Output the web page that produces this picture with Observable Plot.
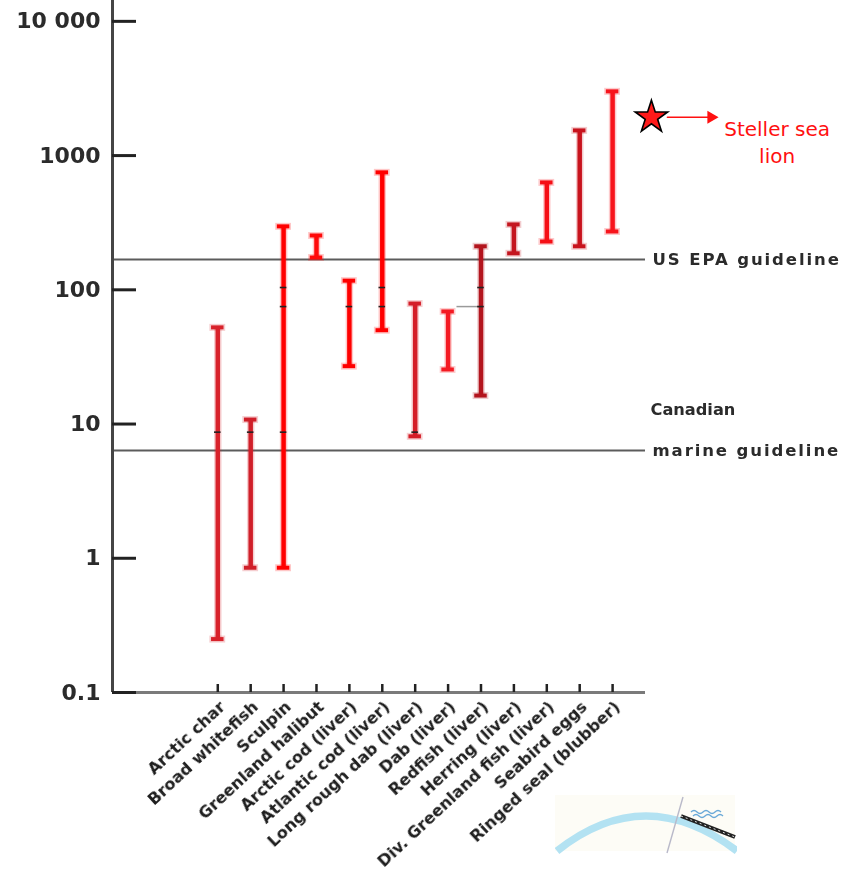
<!DOCTYPE html>
<html>
<head>
<meta charset="utf-8">
<script src="https://cdn.jsdelivr.net/npm/d3@7"></script>
<script src="https://cdn.jsdelivr.net/npm/@observablehq/plot@0.6"></script>
<style>
  html, body { margin: 0; padding: 0; background: #fff; }
  #chart { position: relative; width: 855px; height: 883px; overflow: hidden; }
  #chart svg.logo { position: absolute; left: 555px; top: 795px; }
  #chart g[aria-label="x-axis tick label"] text,
  #chart g[aria-label="y-axis tick label"] text,
  #chart g.guide-label text,
  #chart g.guide-spaced text { filter: blur(0.45px); }
  #chart g.guide-spaced text { letter-spacing: 1.9px; }
</style>
</head>
<body>
<div id="chart"></div>
<script>
// Species sampled, in plotting order
const species = [
  "Arctic char", "Broad whitefish", "Sculpin", "Greenland halibut",
  "Arctic cod (liver)", "Atlantic cod (liver)", "Long rough dab (liver)",
  "Dab (liver)", "Redfish (liver)", "Herring (liver)",
  "Div. Greenland fish (liver)", "Seabird eggs", "Ringed seal (blubber)"
];
// Concentration range (min / max) for each species
const rangeLow  = [0.25, 0.85, 0.85, 174, 27, 50, 8.1, 25.5, 16.3, 187, 229, 211, 272];
const rangeHigh = [52.5, 10.8, 297, 254, 117, 750, 79, 69, 211, 307, 631, 1540, 3010];

// Small central-value markers drawn on some of the ranges
const markerSpecies = ["Arctic char", "Broad whitefish", "Sculpin", "Sculpin", "Sculpin",
  "Arctic cod (liver)", "Atlantic cod (liver)", "Atlantic cod (liver)",
  "Long rough dab (liver)", "Redfish (liver)", "Redfish (liver)"];
const markerValues = [8.7, 8.7, 8.7, 75, 104, 75, 75, 104, 8.7, 75, 104];

// Guideline levels
const guidelineNames = ["US EPA guideline", "marine guideline"];
const guidelineValues = [168, 6.36];

// Steller sea lion value (star)
const stellerValue = 1930;

// Y axis ticks and labels
const yTicks = [0.1, 1, 10, 100, 1000, 10000];
const yTickLabels = ["0.1", "1", "10", "100", "1000", "10 000"];

// Bar tones
const tone = {
  "Arctic char": "#d8222b", "Broad whitefish": "#d01f29", "Sculpin": "#ff0000",
  "Greenland halibut": "#ff0a0a", "Arctic cod (liver)": "#ff0000",
  "Atlantic cod (liver)": "#ff0000", "Long rough dab (liver)": "#d41e28",
  "Dab (liver)": "#f41a22", "Redfish (liver)": "#b3141d", "Herring (liver)": "#c4161f",
  "Div. Greenland fish (liver)": "#f50f16", "Seabird eggs": "#c8131d",
  "Ringed seal (blubber)": "#f7141c"
};

const rows = species.map((name, i) => ({i, name, low: rangeLow[i], high: rangeHigh[i], color: tone[name]}));
const markers = markerSpecies.map((s, k) => ({i: species.indexOf(s), v: markerValues[k]}));
const guides = guidelineNames.map((name, k) => ({name, value: guidelineValues[k]}));

const xMin = -3.2, xMax = 13;
const capHalf = 0.19;
const starX = 13.18, labelX = 17;
const red = "#ff1010";

const chart = Plot.plot({
  width: 855,
  height: 883,
  marginLeft: 112,
  marginRight: 210,
  marginTop: 0,
  marginBottom: 191,
  style: {fontFamily: "DejaVu Sans", background: "#fff", overflow: "visible"},
  x: {type: "linear", domain: [xMin, xMax], axis: null},
  y: {type: "log", domain: [0.1, 14300], axis: null},
  color: {type: "identity"},
  marks: [
    // guideline levels
    Plot.ruleY(guides, {y: "value", stroke: "#5c5c5c", strokeWidth: 2}),
    // connector between Dab and Redfish markers
    Plot.ruleY([75], {x1: species.indexOf("Dab (liver)") + 0.27, x2: species.indexOf("Redfish (liver)"), stroke: "#9a9a9a", strokeWidth: 1.5}),
    // soft halo round the ranges
    Plot.ruleX(rows, {x: "i", y1: "low", y2: "high", stroke: "color", strokeWidth: 7.5, strokeOpacity: 0.22}),
    Plot.ruleY(rows, {y: "high", x1: d => d.i - capHalf - 0.05, x2: d => d.i + capHalf + 0.05, stroke: "color", strokeWidth: 7, strokeOpacity: 0.22}),
    Plot.ruleY(rows, {y: "low", x1: d => d.i - capHalf - 0.05, x2: d => d.i + capHalf + 0.05, stroke: "color", strokeWidth: 7, strokeOpacity: 0.22}),
    // ranges with caps
    Plot.ruleX(rows, {x: "i", y1: "low", y2: "high", stroke: "color", strokeWidth: 4.5}),
    Plot.ruleY(rows, {y: "high", x1: d => d.i - capHalf, x2: d => d.i + capHalf, stroke: "color", strokeWidth: 4}),
    Plot.ruleY(rows, {y: "low", x1: d => d.i - capHalf, x2: d => d.i + capHalf, stroke: "color", strokeWidth: 4}),
    // central-value markers
    Plot.ruleY(markers, {y: "v", x1: d => d.i - 0.1, x2: d => d.i + 0.1, stroke: "#222", strokeWidth: 1.6}),
    // axis lines
    Plot.ruleY([0.1], {stroke: "#7a7a7a", strokeWidth: 3}),
    Plot.ruleX([xMin], {stroke: "#454545", strokeWidth: 3}),
    // y axis: inward ticks and labels
    Plot.axisY({ticks: yTicks, tickSize: -24, tickFormat: () => "", strokeWidth: 3, stroke: "#222", label: null}),
    Plot.axisY({ticks: yTicks, tickSize: 0, tickPadding: 12, tickFormat: d => yTickLabels[yTicks.indexOf(d)],
      fontSize: 22, fontWeight: "bold", fill: "#2b2b2b", label: null}),
    // x axis: inward ticks and rotated species labels
    Plot.axisX({ticks: d3.range(species.length), tickSize: -8, tickFormat: () => "", strokeWidth: 2.5, stroke: "#222", label: null}),
    Plot.axisX({ticks: d3.range(species.length), tickSize: 0, tickPadding: 12, dx: 5, tickRotate: -43,
      tickFormat: i => species[i], fontSize: 16.2, fontWeight: "bold", fill: "#1e1e1e", label: null}),
    // guideline labels
    Plot.text(guides, {x: xMax, y: "value", text: "name", dx: 7, textAnchor: "start",
      fontSize: 16.5, fontWeight: "bold", fill: "#2b2b2b", className: "guide-spaced"}),
    Plot.text(["Canadian"], {x: xMax, y: guidelineValues[1], text: d => d, dx: 5, dy: -41, textAnchor: "start",
      fontSize: 16.2, fontWeight: "bold", fill: "#2b2b2b", className: "guide-label"}),
    // Steller sea lion annotation
    Plot.arrow([stellerValue], {x1: starX, x2: labelX, y1: d => d, y2: d => d, headLength: 0,
      insetStart: 16, insetEnd: 68, stroke: red, strokeWidth: 1.6}),
    Plot.dot([stellerValue], {x: labelX, y: d => d, symbol: "triangle", rotate: 90, r: 4.8, dx: -66, fill: red, stroke: "none"}),
    Plot.dot([stellerValue], {x: starX, y: d => d, symbol: "star", r: 10.2, fill: "#ff1a1a", stroke: "#000", strokeWidth: 1.6}),
    Plot.text([stellerValue], {x: labelX, y: d => d, text: () => "Steller sea\nlion", dy: 24, lineHeight: 1.35,
      fontSize: 20, fill: red, textAnchor: "middle"})
  ]
});

const host = document.getElementById("chart");
host.appendChild(chart);

// decorative logo fragment in the lower right
host.insertAdjacentHTML("beforeend", `
<svg class="logo" width="182" height="60" viewBox="0 0 182 60">
  <rect x="0" y="0" width="180" height="56" fill="#fdfcf6"/>
  <path d="M2,56 Q90,-14 182,56" fill="none" stroke="#b3e2f2" stroke-width="7.5"/>
  <line x1="128" y1="2" x2="112" y2="58" stroke="#b9b9c9" stroke-width="1.4"/>
  <line x1="126" y1="21" x2="180" y2="42" stroke="#222" stroke-width="4"/>
  <line x1="126" y1="21" x2="180" y2="42" stroke="#ddd" stroke-width="1" stroke-dasharray="2 3"/>
  <path d="M136,17 q3,-3 6,0 t6,0 t6,0 t6,0 t6,0" fill="none" stroke="#6aa9d8" stroke-width="1.3"/>
  <path d="M138,21 q3,-3 6,0 t6,0 t6,0 t6,0 t6,0" fill="none" stroke="#6aa9d8" stroke-width="1.3"/>
</svg>`);
</script>
</body>
</html>
